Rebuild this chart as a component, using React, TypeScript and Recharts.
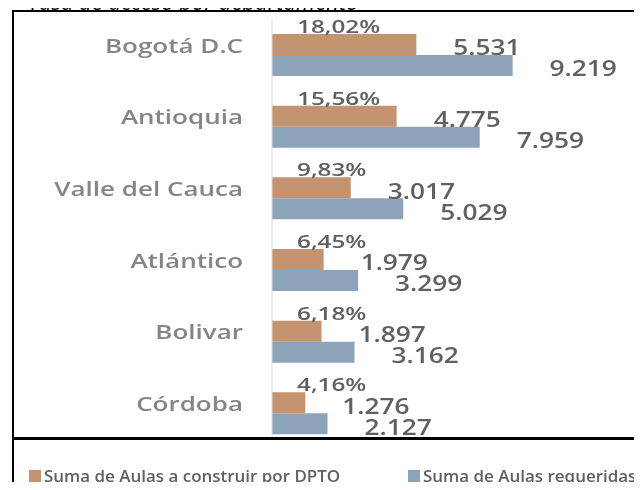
import { BarChart, Bar, XAxis, YAxis, LabelList } from "recharts";

const departamentos = [
  "Bogotá D.C",
  "Antioquia",
  "Valle del Cauca",
  "Atlántico",
  "Bolivar",
  "Córdoba",
];
const aulasConstruir = [5531, 4775, 3017, 1979, 1897, 1276];
const aulasRequeridas = [9219, 7959, 5029, 3299, 3162, 2127];
const porcentajes = ["18,02%", "15,56%", "9,83%", "6,45%", "6,18%", "4,16%"];

const NARANJA = "#c4936f";
const AZUL = "#8ca3ba";
const FONT = "'Open Sans', sans-serif";

const data = departamentos.map((name, i) => ({
  name,
  construir: aulasConstruir[i],
  requeridas: aulasRequeridas[i],
  pct: porcentajes[i],
}));

const fmt = (v: number) =>
  String(v).replace(/\B(?=(\d{3})+(?!\d))/g, ".");

// eslint-disable-next-line @typescript-eslint/no-explicit-any
function CategoryTick(props: any) {
  const { x, y, payload } = props;
  return (
    <g transform={`translate(${x},${y - 10})`}>
      <text
        transform="scale(1.3,1)"
        textAnchor="end"
        dominantBaseline="central"
        fill="#858585"
        fontSize={20}
        fontWeight={600}
        fontFamily={FONT}
      >
        {payload.value}
      </text>
    </g>
  );
}

// eslint-disable-next-line @typescript-eslint/no-explicit-any
const pctLabel = (p: any) => (
  <g transform={`translate(${Number(p.x) + 25},${Number(p.y) - 1})`}>
    <text
      transform="scale(1.35,1)"
      fill="#606060"
      fontSize={18}
      fontWeight={600}
      fontFamily={FONT}
    >
      {p.value}
    </text>
  </g>
);

// eslint-disable-next-line @typescript-eslint/no-explicit-any
const valueLabel = (dy: number) => (p: any) => (
  <g
    transform={`translate(${Number(p.x) + Number(p.width) + 37},${
      Number(p.y) + Number(p.height) / 2 + dy
    })`}
  >
    <text
      transform="scale(1.25,1)"
      dominantBaseline="central"
      fill="#606060"
      fontSize={21}
      fontWeight={600}
      fontFamily={FONT}
    >
      {fmt(Number(p.value))}
    </text>
  </g>
);

export default function App() {
  return (
    <div
      style={{
        position: "relative",
        margin: -8,
        width: 642,
        height: 490,
        overflow: "hidden",
        background: "#fff",
        fontFamily: FONT,
        filter: "blur(0.4px)",
      }}
    >
      <div
        style={{
          position: "absolute",
          left: 28,
          top: -14,
          fontSize: 22,
          lineHeight: "30px",
          fontStyle: "italic",
          color: "#000",
          whiteSpace: "nowrap",
        }}
      >
        Tasa de acceso por departamento
      </div>
      <div
        style={{
          position: "absolute",
          left: 12,
          top: 10,
          width: 700,
          height: 600,
          border: "2px solid #000",
          background: "#fff",
        }}
      />
      <div style={{ position: "absolute", left: 0, top: 0 }}>
        <BarChart
          layout="vertical"
          width={642}
          height={490}
          data={data}
          margin={{ top: 19, right: 109, bottom: 41, left: 0 }}
          barSize={21}
          barGap={0}
        >
          <XAxis type="number" hide domain={[0, 10000]} />
          <YAxis
            type="category"
            dataKey="name"
            width={272}
            axisLine={{ stroke: "#d9d9d9" }}
            tickLine={false}
            tickSize={0}
            tickMargin={29}
            tick={CategoryTick}
          />
          <Bar dataKey="construir" fill={NARANJA} isAnimationActive={false}>
            <LabelList dataKey="pct" content={pctLabel} />
            <LabelList dataKey="construir" content={valueLabel(3)} />
          </Bar>
          <Bar dataKey="requeridas" fill={AZUL} isAnimationActive={false}>
            <LabelList dataKey="requeridas" content={valueLabel(3)} />
          </Bar>
        </BarChart>
      </div>
      <div
        style={{
          position: "absolute",
          left: 14,
          top: 437,
          width: 700,
          height: 60,
          background: "#fff",
          borderTop: "3px solid #000",
        }}
      >
        {[
          { label: "Suma de Aulas a construir por DPTO", color: NARANJA, left: 15 },
          { label: "Suma de Aulas requeridas", color: AZUL, left: 394 },
        ].map((item) => (
          <div
            key={item.label}
            style={{
              position: "absolute",
              left: item.left,
              top: 25,
              display: "flex",
              alignItems: "center",
              whiteSpace: "nowrap",
              color: "#606060",
              fontSize: 16,
              fontWeight: 600,
            }}
          >
            <span
              style={{
                display: "inline-block",
                width: 12,
                height: 12,
                background: item.color,
                marginRight: 3,
              }}
            />
            <span
              style={{
                display: "inline-block",
                transform: "scaleX(1.06)",
                transformOrigin: "left",
              }}
            >
              {item.label}
            </span>
          </div>
        ))}
      </div>
    </div>
  );
}
